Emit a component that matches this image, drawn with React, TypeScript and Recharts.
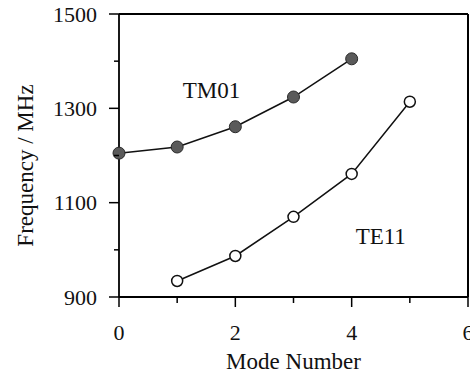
import React from 'react';
import { LineChart, Line, XAxis, YAxis, ReferenceDot, ReferenceLine } from 'recharts';

const modeTM01 = [0, 1, 2, 3, 4];
const freqTM01 = [1205, 1218, 1261, 1324, 1405];
const modeTE11 = [1, 2, 3, 4, 5];
const freqTE11 = [934, 987, 1070, 1161, 1314];

const xTicks = [0, 1, 2, 3, 4, 5, 6];
const xLabelTicks = [0, 2, 4, 6];
const yTicks = [900, 1000, 1100, 1200, 1300, 1400, 1500];
const yLabelTicks = [900, 1100, 1300, 1500];

// plot frame (top and right borders), in data units
const frameTop = 1500;
const frameRight = 6;

const seriesLabels = [
  { name: 'TM01', x: 1.59, y: 1339 },
  { name: 'TE11', x: 4.5, y: 1030 },
];

const tm01 = modeTM01.map((m, i) => ({ mode: m, f: freqTM01[i] }));
const te11 = modeTE11.map((m, i) => ({ mode: m, f: freqTE11[i] }));

const FONT = '"Liberation Serif", "Times New Roman", serif';

const XTick = (props: any) => {
  const { x, y, payload } = props;
  const major = xLabelTicks.includes(payload.value);
  return (
    <g>
      <line x1={x} x2={x} y1={y} y2={y + (major ? 10 : 6)} stroke="#000" strokeWidth={1.5} />
      {major && (
        <text x={x} y={y + 35} dy="0.35em" textAnchor="middle" fontFamily={FONT} fontSize={22} fill="#111">
          {payload.value}
        </text>
      )}
    </g>
  );
};

const YTick = (props: any) => {
  const { x, y, payload } = props;
  const major = yLabelTicks.includes(payload.value);
  return (
    <g>
      <line x1={x - (major ? 10 : 5)} x2={x} y1={y} y2={y} stroke="#000" strokeWidth={1.5} />
      {major && (
        <text x={x - 22} y={y} dy="0.35em" textAnchor="end" fontFamily={FONT} fontSize={22} fill="#111">
          {payload.value}
        </text>
      )}
    </g>
  );
};

const YTitle = (props: any) => {
  const { viewBox } = props;
  const cx = 25;
  const cy = viewBox.y + viewBox.height / 2 + 10;
  return (
    <text x={cx} y={cy} dy="0.35em" transform={`rotate(-90, ${cx}, ${cy})`} textAnchor="middle" fontFamily={FONT} fontSize={23} fill="#111">
      Frequency / MHz
    </text>
  );
};

const XTitle = (props: any) => {
  const { viewBox } = props;
  const cx = viewBox.x + viewBox.width / 2;
  return (
    <text x={cx} y={369} textAnchor="middle" fontFamily={FONT} fontSize={23} fill="#111">
      Mode Number
    </text>
  );
};

export default function App() {
  return (
    <div style={{ position: 'absolute', left: 0, top: 0, width: 470, height: 377, background: '#fff' }}>
      <LineChart width={470} height={377} margin={{ top: 14, right: 2, left: 0, bottom: 0 }}>
        <XAxis
          xAxisId="b"
          dataKey="mode"
          type="number"
          domain={[0, 6]}
          ticks={xTicks}
          interval={0}
          height={80}
          tickSize={0}
          tickMargin={0}
          tickLine={false}
          axisLine={{ stroke: '#000', strokeWidth: 1.8 }}
          tick={<XTick />}
          label={<XTitle />}
        />
        <YAxis
          yAxisId="l"
          type="number"
          domain={[900, 1500]}
          ticks={yTicks}
          interval={0}
          width={119}
          tickSize={0}
          tickMargin={0}
          tickLine={false}
          axisLine={{ stroke: '#000', strokeWidth: 1.8 }}
          tick={<YTick />}
          label={<YTitle />}
        />
        <ReferenceLine xAxisId="b" yAxisId="l" y={frameTop} stroke="#000" strokeWidth={2} ifOverflow="visible" />
        <ReferenceLine xAxisId="b" yAxisId="l" x={frameRight} stroke="#000" strokeWidth={2} ifOverflow="visible" />
        <Line
          xAxisId="b"
          yAxisId="l"
          data={tm01}
          dataKey="f"
          stroke="#111"
          strokeWidth={1.5}
          dot={{ r: 6, fill: '#5a5a5a', stroke: '#2a2a2a', strokeWidth: 1 }}
          isAnimationActive={false}
        />
        <Line
          xAxisId="b"
          yAxisId="l"
          data={te11}
          dataKey="f"
          stroke="#111"
          strokeWidth={1.5}
          dot={{ r: 5.5, fill: '#fff', stroke: '#111', strokeWidth: 1.5 }}
          isAnimationActive={false}
        />
        {seriesLabels.map((s) => (
          <ReferenceDot
            key={s.name}
            xAxisId="b"
            yAxisId="l"
            x={s.x}
            y={s.y}
            r={0}
            fill="none"
            stroke="none"
            label={{ value: s.name, position: 'center', fontFamily: FONT, fontSize: 23, fill: '#111' }}
          />
        ))}
      </LineChart>
    </div>
  );
}
